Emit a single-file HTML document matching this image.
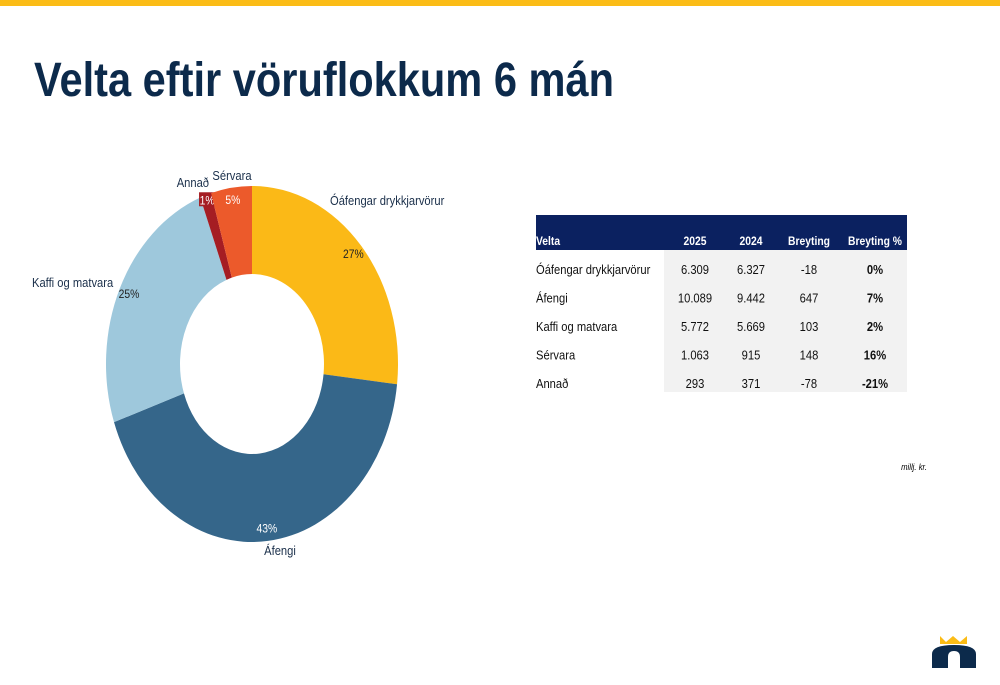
<!DOCTYPE html>
<html><head><meta charset="utf-8"><style>
body{margin:0;background:#fff;}
svg{display:block;font-family:"Liberation Sans Narrow","Liberation Sans",sans-serif;}
</style></head><body>
<svg width="1000" height="685" viewBox="0 0 1000 685">
<rect x="0" y="0" width="1000" height="6" fill="#fbbc16"/>
<text x="34" y="96" font-size="48" font-weight="bold" fill="#0c2a4b" textLength="580" lengthAdjust="spacingAndGlyphs">Velta eftir vöruflokkum 6 mán</text>
<g id="donut"></g>
<g id="table"></g>
<text class="sq" x="927" y="470" font-size="9" font-style="italic" text-anchor="end" fill="#000">millj. kr.</text>
<g>
<polygon points="940,636 946,642 953,636 960,642 967,636 967,644 940,644" fill="#fbbc16"/>
<path d="M932,668 L932,654 Q932,645 954,645 Q976,645 976,654 L976,668 L960,668 L960,657 Q960,651 954,651 Q948,651 948,657 L948,668 Z" fill="#0c2a4b"/>
</g>
</svg>
<script>
const categories=["Óáfengar drykkjarvörur","Áfengi","Kaffi og matvara","Annað","Sérvara"];
const values=[6309,10089,5772,293,1063];
const colors=["#fbb917","#35668a","#9ec8dc","#a51d23","#ec5a2b"];
const pctLabelColors=["#222","#fff","#222","#fff","#fff"];
const NS="http://www.w3.org/2000/svg";
const cx=252,cy=364,rx=146,ry=178,irx=72,iry=90;
const g=document.getElementById('donut');
const total=values.reduce((a,b)=>a+b,0);
function pt(a,fx,fy){return [cx+fx*Math.sin(a),cy-fy*Math.cos(a)];}
let start=0;
const labelPos=[[330,205,'start'],[280,555,'middle'],[32,287,'start'],[209,187,'end'],[232,180,'middle']];
values.forEach((v,i)=>{
  const ang=v/total*2*Math.PI,end=start+ang,large=ang>Math.PI?1:0;
  const p1=pt(start,rx,ry),p2=pt(end,rx,ry),p3=pt(end,irx,iry),p4=pt(start,irx,iry);
  const path=document.createElementNS(NS,'path');
  path.setAttribute('d',`M${p1} A${rx},${ry} 0 ${large} 1 ${p2} L${p3} A${irx},${iry} 0 ${large} 0 ${p4} Z`);
  path.setAttribute('fill',colors[i]);
  
  
  g.appendChild(path);
  const mid=(start+end)/2;
  const f=i===3?0.97:0.93;
  const lp=pt(mid,rx*f,ry*f);
  const pct=Math.round(v/total*100)+'%';
  if(i===3){const r=document.createElementNS(NS,'rect');r.setAttribute('x',lp[0]-8);r.setAttribute('y',lp[1]-8);r.setAttribute('width',16);r.setAttribute('height',14);r.setAttribute('fill','#a51d23');
  
  
  g.appendChild(r);}
  const t=document.createElementNS(NS,'text');
  t.setAttribute('x',lp[0]);t.setAttribute('y',lp[1]+4);t.setAttribute('text-anchor','middle');t.setAttribute('font-size','12');t.setAttribute('fill',pctLabelColors[i]);t.setAttribute('class','sq');
  t.textContent=pct;
  
  
  g.appendChild(t);
  const c=document.createElementNS(NS,'text');
  c.setAttribute('x',labelPos[i][0]);c.setAttribute('y',labelPos[i][1]);c.setAttribute('text-anchor',labelPos[i][2]);c.setAttribute('font-size','13');c.setAttribute('fill','#1a2f4a');c.setAttribute('class','sq');
  c.textContent=categories[i];
  
  
  g.appendChild(c);
  start=end;
});
const rows=[["Óáfengar drykkjarvörur","6.309","6.327","-18","0%"],["Áfengi","10.089","9.442","647","7%"],["Kaffi og matvara","5.772","5.669","103","2%"],["Sérvara","1.063","915","148","16%"],["Annað","293","371","-78","-21%"]];
const headers=["Velta","2025","2024","Breyting","Breyting %"];
const colX=[536,695,751,809,875];
const tg=document.getElementById('table');
function el(tag,attrs,txt){const e=document.createElementNS(NS,tag);for(const k in attrs)e.setAttribute(k,attrs[k]);if(txt!==undefined)e.textContent=txt;tg.appendChild(e);return e;}
const hb=el('rect',{x:536,y:215,width:371,height:35,fill:'#0b2160'});


const gb=el('rect',{x:664,y:250,width:243,height:142,fill:'#f2f2f2'});


headers.forEach((h,i)=>{const t=el('text',{x:colX[i],y:245,'font-size':12,'font-weight':'bold',fill:'#fff','text-anchor':i?'middle':'start',class:'sq'},h);

});
rows.forEach((r,ri)=>{const y=274+ri*28.5;r.forEach((v,ci)=>{const t=el('text',{x:colX[ci],y:y,'font-size':13,'font-weight':ci===4?'bold':'normal',fill:'#111','text-anchor':ci?'middle':'start',class:'sq'},v);

});});
document.querySelectorAll('text.sq').forEach(t=>{const w=t.getComputedTextLength();t.setAttribute('textLength',(w*0.86).toFixed(1));t.setAttribute('lengthAdjust','spacingAndGlyphs');});
</script>
</body></html>
